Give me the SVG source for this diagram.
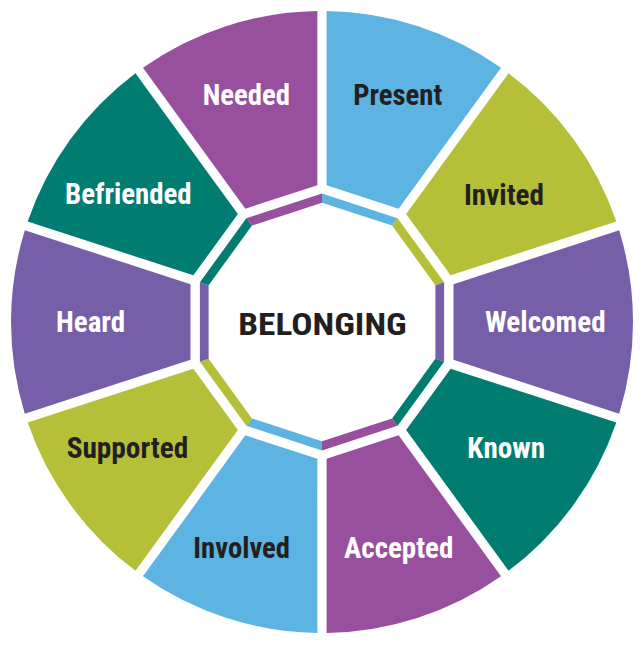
<svg xmlns="http://www.w3.org/2000/svg" xmlns:xlink="http://www.w3.org/1999/xlink" width="644" height="646" viewBox="0 0 644 646">
  <defs>
    <path id="seg" d="M -37.84,-131.5 L -91.67,-297.18 A 311 311 0 0 1 91.67,-297.18 L 37.84,-131.5 Z"/>
    <path id="strip" d="M -39.68,-122.11 L 39.68,-122.11 L 36.84,-113.37 L -36.84,-113.37 Z"/>
  </defs>
  <style>
    .lbl { font-family: "Liberation Sans Narrow", "Roboto Condensed", "DejaVu Sans Condensed", "Liberation Sans", sans-serif; font-weight: bold; font-size: 30px; text-anchor: middle; }
    .w { fill: #ffffff; }
    .k { fill: #231f20; }
    .magenta { fill: #984f9e; }
    .blue { fill: #5db3e2; }
    .green { fill: #b5bf38; }
    .violet { fill: #775ea8; }
    .teal { fill: #007d70; }
  </style>
  <rect width="644" height="646" fill="#ffffff"/>
  <g id="present">
    <use xlink:href="#seg" class="blue" transform="translate(322,322) rotate(18)"/>
    <use xlink:href="#strip" class="blue" transform="translate(322,322) rotate(18)"/>
    <text class="lbl k" x="397.8" y="105" textLength="89" lengthAdjust="spacingAndGlyphs">Present</text>
  </g>
  <g id="invited">
    <use xlink:href="#seg" class="green" transform="translate(322,322) rotate(54)"/>
    <use xlink:href="#strip" class="green" transform="translate(322,322) rotate(54)"/>
    <text class="lbl k" x="504" y="205" textLength="80" lengthAdjust="spacingAndGlyphs">Invited</text>
  </g>
  <g id="welcomed">
    <use xlink:href="#seg" class="violet" transform="translate(322,322) rotate(90)"/>
    <use xlink:href="#strip" class="violet" transform="translate(322,322) rotate(90)"/>
    <text class="lbl w" x="545.3" y="331.7" textLength="120.7" lengthAdjust="spacingAndGlyphs">Welcomed</text>
  </g>
  <g id="known">
    <use xlink:href="#seg" class="teal" transform="translate(322,322) rotate(126)"/>
    <use xlink:href="#strip" class="teal" transform="translate(322,322) rotate(126)"/>
    <text class="lbl w" x="506.2" y="458.3" textLength="77.7" lengthAdjust="spacingAndGlyphs">Known</text>
  </g>
  <g id="accepted">
    <use xlink:href="#seg" class="magenta" transform="translate(322,322) rotate(162)"/>
    <use xlink:href="#strip" class="magenta" transform="translate(322,322) rotate(162)"/>
    <text class="lbl w" x="398.7" y="558.3" textLength="109.3" lengthAdjust="spacingAndGlyphs">Accepted</text>
  </g>
  <g id="involved">
    <use xlink:href="#seg" class="blue" transform="translate(322,322) rotate(198)"/>
    <use xlink:href="#strip" class="blue" transform="translate(322,322) rotate(198)"/>
    <text class="lbl k" x="241.7" y="558.3" textLength="96.7" lengthAdjust="spacingAndGlyphs">Involved</text>
  </g>
  <g id="supported">
    <use xlink:href="#seg" class="green" transform="translate(322,322) rotate(234)"/>
    <use xlink:href="#strip" class="green" transform="translate(322,322) rotate(234)"/>
    <text class="lbl k" x="127.5" y="458.3" textLength="121.7" lengthAdjust="spacingAndGlyphs">Supported</text>
  </g>
  <g id="heard">
    <use xlink:href="#seg" class="violet" transform="translate(322,322) rotate(270)"/>
    <use xlink:href="#strip" class="violet" transform="translate(322,322) rotate(270)"/>
    <text class="lbl w" x="90.5" y="332.3" textLength="69" lengthAdjust="spacingAndGlyphs">Heard</text>
  </g>
  <g id="befriended">
    <use xlink:href="#seg" class="teal" transform="translate(322,322) rotate(306)"/>
    <use xlink:href="#strip" class="teal" transform="translate(322,322) rotate(306)"/>
    <text class="lbl w" x="128.3" y="204.3" textLength="126.7" lengthAdjust="spacingAndGlyphs">Befriended</text>
  </g>
  <g id="needed">
    <use xlink:href="#seg" class="magenta" transform="translate(322,322) rotate(342)"/>
    <use xlink:href="#strip" class="magenta" transform="translate(322,322) rotate(342)"/>
    <text class="lbl w" x="246.3" y="105" textLength="87.3" lengthAdjust="spacingAndGlyphs">Needed</text>
  </g>
  <g id="belonging">
    <text class="lbl k" x="322.5" y="335" style="font-size:31px" textLength="168.4" lengthAdjust="spacingAndGlyphs">BELONGING</text>
  </g>
  <g id="connectors"/>
</svg>
